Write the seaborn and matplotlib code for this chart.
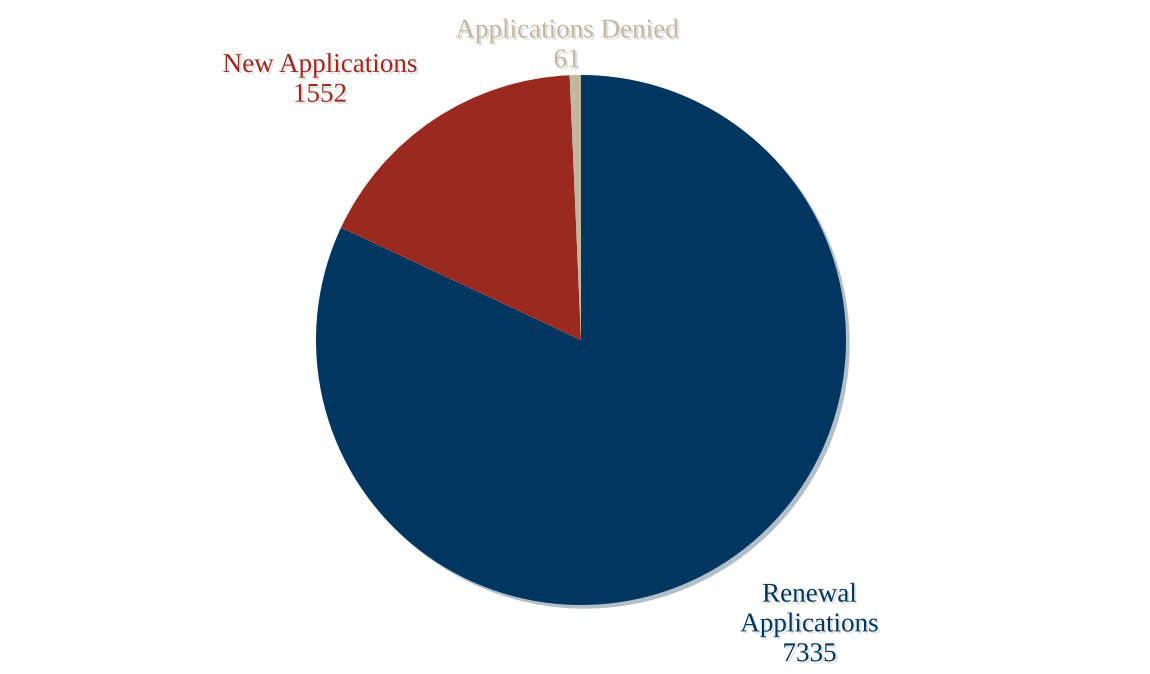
import matplotlib
matplotlib.use("Agg")
import matplotlib.pyplot as plt
import matplotlib.patheffects as pe
import seaborn as sns

# Application counts
categories = ["Renewal\nApplications", "New Applications", "Applications Denied"]
counts = [7335, 1552, 61]
colors = ["#00365f", "#9a2a1f", "#c2b89f"]

sns.set_theme(style="white")
plt.rcParams["font.family"] = ["Liberation Serif", "DejaVu Serif"]

fig = plt.figure(figsize=(11.5, 6.74), dpi=100)
ax = fig.add_axes([316 / 1150, 69 / 674, 530 / 1150, 530 / 674])

wedges, _ = ax.pie(
    counts,
    colors=sns.color_palette(colors),
    startangle=90,
    counterclock=False,
    radius=1,
    shadow=dict(ox=0.01, oy=-0.01, shade=0.2, alpha=0.3),
    wedgeprops=dict(linewidth=0),
)
ax.set_xlim(-1, 1)
ax.set_ylim(-1, 1)
ax.set_aspect("equal")
ax.axis("off")

label_pos = [(0.862, -1.075), (-0.985, 0.98), (-0.053, 1.11)]
shadow = [pe.withSimplePatchShadow(offset=(1.5, -1.5), shadow_rgbFace="#999999", alpha=0.3)]
for name, val, col, (lx, ly) in zip(categories, counts, colors, label_pos):
    ax.text(lx, ly, f"{name}\n{val}", ha="center", va="center", fontsize=19.5,
            color=col, linespacing=1.25, clip_on=False, path_effects=shadow)

fig.savefig("out.png", dpi=100, facecolor="white")
